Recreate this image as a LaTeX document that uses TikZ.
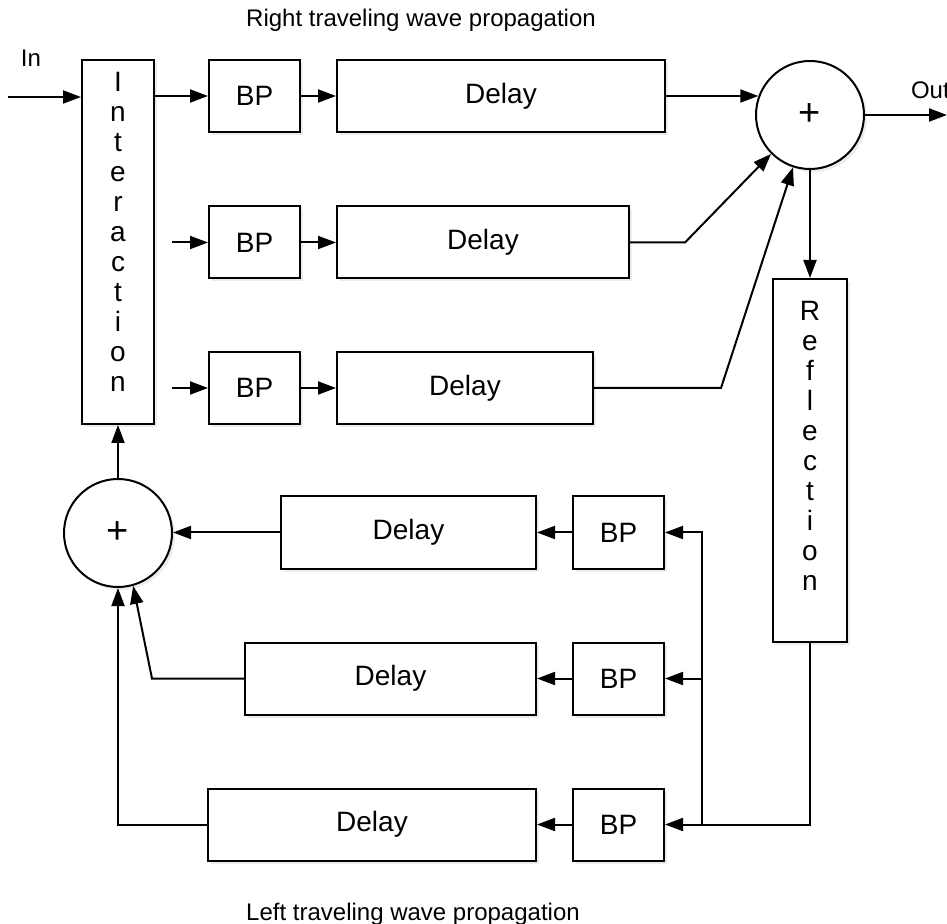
\documentclass[tikz,border=0pt]{standalone}
\usepackage{fontspec}
\setmainfont{Liberation Sans}
\usetikzlibrary{arrows.meta,positioning,calc,shadows}
\tikzset{
  every picture/.style={line width=1pt},
  block/.style={draw,fill=white,inner sep=0pt,font=\fontsize{14}{15}\selectfont,
    drop shadow={opacity=0.15,shadow xshift=1.5pt,shadow yshift=-1.5pt}},
  bpbox/.style={block,minimum width=45.5pt,minimum height=36pt},
  dlbox/.style={block,minimum height=36pt},
  sum/.style={block,circle,minimum size=54pt,font=\fontsize{19}{19}\selectfont},
  vtext/.style={align=center,inner sep=0pt,anchor=north,font=\fontsize{14}{15}\selectfont},
  lbl/.style={inner sep=0pt,font=\fontsize{12}{14}\selectfont},
  arr/.style={-{Triangle[length=9pt,width=6.5pt]}},
}
\begin{document}
\begin{tikzpicture}[x=0.5pt,y=-0.5pt]
  \useasboundingbox (0,0) rectangle (947,924);
  \node[block,minimum width=36pt,minimum height=182pt] (inter) at (118,242) {};
  \node[vtext] (intertxt) at ([yshift=-6pt]inter.north) {I\\n\\t\\e\\r\\a\\c\\t\\i\\o\\n};
  \foreach \k/\yy/\dw in {1/96/164,2/242.5/146,3/388/128}{
    \node[bpbox] (bp\k) at (254.5,\yy) {BP};
    \node[dlbox,minimum width=\dw pt,anchor=west] (d\k) at (336,\yy) {Delay};
    \draw[arr] (bp\k.east) -- (d\k.west);
  }
  \node[sum] (s1) at (810,115) {+};
  \node[block,minimum width=37pt,minimum height=181.5pt] (refl) at (810,460.5) {};
  \node[vtext] (refltxt) at ([yshift=-11pt]refl.north) {R\\e\\f\\l\\e\\c\\t\\i\\o\\n};
  \foreach \k/\yy/\dw in {4/532.5/127.5,5/678.5/145.5,6/824.5/164}{
    \node[bpbox] (bp\k) at (618.5,\yy) {BP};
    \node[dlbox,minimum width=\dw pt,anchor=east] (d\k) at (537,\yy) {Delay};
    \draw[arr] (bp\k.west) -- (d\k.east);
  }
  \node[sum] (s2) at (118,533) {+};
  \node[lbl] (lin) at (31,58) {In};
  \node[lbl,anchor=west] (lout) at (910,90) {Out};
  \node[lbl,anchor=base] (ltop) at (421,27) {Right traveling wave propagation};
  \node[lbl,anchor=base] (lbot) at (413,920) {Left traveling wave propagation};
  \coordinate (src) at (8,97);
  \coordinate (sink) at (947,115);
  \draw[arr] (src) -- (src -| inter.west);
  \draw[arr] (inter.east |- bp1.west) -- (bp1.west);
  \draw[arr] ([xshift=-18pt]bp2.west) -- (bp2.west);
  \draw[arr] ([xshift=-18pt]bp3.west) -- (bp3.west);
  \draw[arr] (d1.east) -- (d1.east -| s1.160);
  \draw[arr] (d2.east) -- ++(55,0) -- (s1.225);
  \draw[arr] (d3.east) -- ++(127,0) -- (s1.252);
  \draw[arr] (s1) -- (refl);
  \draw[arr] (s1.east) -- (sink);
  \draw[arr] (refl.south) |- (bp6.east);
  \coordinate (tap) at ([xshift=18.5pt]bp6.east);
  \draw[arr] (tap) |- (bp4.east);
  \draw[arr] (tap |- bp5.east) -- (bp5.east);
  \draw[arr] (d4.west) -- (d4.west -| s2.east);
  \draw[arr] (d5.west) -- ++(-92,0) -- (s2.286);
  \draw[arr] (d6.west) -| (s2.south);
  \draw[arr] (s2) -- (inter);
\end{tikzpicture}
\end{document}
